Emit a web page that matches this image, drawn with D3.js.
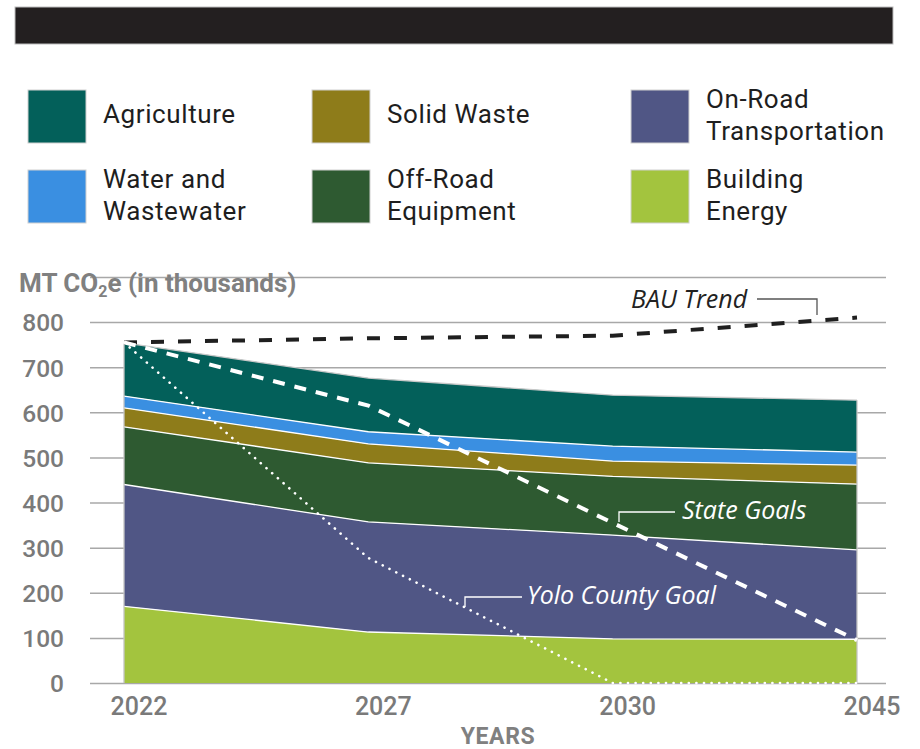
<!DOCTYPE html>
<html>
<head>
<meta charset="utf-8">
<script src="https://cdn.jsdelivr.net/npm/d3@7"></script>
<style>
  body { margin: 0; background: #fff; }
  svg { display: block; }
  .tick line { stroke: #a8a8a8; stroke-width: 1.5; }
</style>
</head>
<body>
<div id="chart"></div>
<script>
// values (MT CO2e, thousands)
const years = ['2022', '2027', '2030', '2045'];
const buildingEnergy = [170, 113, 98, 97];
const onRoadTransportation = [270, 244, 230, 198];
const offRoadEquipment = [128, 131, 130, 146];
const solidWaste = [42, 42, 34, 42];
const waterAndWastewater = [26, 27, 33, 29];
const agriculture = [118, 119, 113, 115];

const bauTrend = [755, 764, 770, 810];
const stateGoals = [755, 615, 355, 95];
const yoloCountyGoal = [755, 277, 0, 0];

const yTicks = [0, 100, 200, 300, 400, 500, 600, 700, 800, 900];

// stacking order, bottom to top
const sectors = [
  {key: 'building', label: ['Building', 'Energy'], values: buildingEnergy, color: '#a3c43e'},
  {key: 'onroad', label: ['On-Road', 'Transportation'], values: onRoadTransportation, color: '#505685'},
  {key: 'offroad', label: ['Off-Road', 'Equipment'], values: offRoadEquipment, color: '#2e5a31'},
  {key: 'solid', label: ['Solid Waste'], values: solidWaste, color: '#8e7c1a'},
  {key: 'water', label: ['Water and', 'Wastewater'], values: waterAndWastewater, color: '#3a8fe1'},
  {key: 'agri', label: ['Agriculture'], values: agriculture, color: '#03605a'}
];

// legend reading order: columns left to right, rows top to bottom
const legendOrder = ['agri', 'solid', 'onroad', 'water', 'offroad', 'building'];

class emissionsChart {

  constructor(_config) {
    this.config = {
      parentElement: _config.parentElement,
      containerWidth: _config.containerWidth || 920,
      containerHeight: _config.containerHeight || 749,
      plotLeft: 124,
      plotRight: 857,
      gridLeft: 90,
      gridRight: 886,
      zeroY: 683,
      topY: 277
    };
    this.initVis();
  }

  initVis() {
    let vis = this;
    const c = vis.config;

    vis.svg = d3.select(c.parentElement).append('svg')
      .attr('width', c.containerWidth)
      .attr('height', c.containerHeight);

    // black header band
    vis.svg.append('rect')
      .attr('x', 15).attr('y', 7)
      .attr('width', 878).attr('height', 37)
      .attr('fill', '#231f20')
      .attr('stroke', '#bdbdbd')
      .attr('stroke-width', 1);

    vis.x = d3.scalePoint().domain(years).range([c.plotLeft, c.plotRight]);
    vis.y = d3.scaleLinear().domain([0, 900]).range([c.zeroY, c.topY]);

    vis.renderLegend();
    vis.renderAxes();
    vis.renderAreas();
    vis.renderLines();
    vis.renderNotes();
  }

  renderLegend() {
    let vis = this;
    const colX = [28, 312, 631];
    const rowY = [90, 170];

    const items = vis.svg.append('g').selectAll('g')
      .data(legendOrder.map(k => sectors.find(s => s.key === k)))
      .join('g')
      .attr('transform', (d, i) => `translate(${colX[i % 3]}, ${rowY[Math.floor(i / 3)]})`);

    items.append('rect')
      .attr('width', 58).attr('height', 53)
      .attr('fill', d => d.color)
      .attr('stroke', '#d0d0d0')
      .attr('stroke-width', 1);

    items.append('text')
      .attr('font-family', 'Roboto')
      .attr('font-size', 26)
      .attr('letter-spacing', 0.6)
      .attr('fill', '#1e1e1e')
      .selectAll('tspan')
      .data(d => d.label.map((t, j) => ({t, j, n: d.label.length})))
      .join('tspan')
      .attr('x', 75)
      .attr('y', d => d.n === 1 ? 33 : 18 + d.j * 32)
      .text(d => d.t);
  }

  renderAxes() {
    let vis = this;
    const c = vis.config;

    const yAxis = vis.svg.append('g')
      .attr('transform', `translate(${c.gridLeft}, 0)`)
      .call(d3.axisLeft(vis.y)
        .tickValues(yTicks)
        .tickSize(-(c.gridRight - c.gridLeft))
        .tickPadding(26)
        .tickFormat(d => d === 900 ? '' : d));
    yAxis.select('.domain').remove();
    yAxis.selectAll('text')
      .attr('font-family', 'Roboto')
      .attr('font-weight', 500)
      .attr('font-size', 24.5)
      .attr('fill', '#7a7a7a')
      .attr('dy', '0.36em');

    const xAxis = vis.svg.append('g')
      .attr('transform', `translate(0, ${c.zeroY})`)
      .call(d3.axisBottom(vis.x).tickSize(0));
    xAxis.select('.domain').remove();
    xAxis.selectAll('text')
      .attr('font-family', 'Roboto')
      .attr('font-weight', 500)
      .attr('font-size', 25)
      .attr('fill', '#7a7a7a')
      .attr('y', 32)
      .attr('dy', 0)
      .attr('dx', 14.5);

    // axis titles
    const yTitle = vis.svg.append('text')
      .attr('x', 19).attr('y', 292)
      .attr('font-family', 'Roboto')
      .attr('font-weight', 700)
      .attr('font-size', 26)
      .attr('fill', '#808080');
    yTitle.append('tspan').text('MT CO');
    yTitle.append('tspan').attr('font-size', 16).attr('dy', 5).text('2');
    yTitle.append('tspan').attr('dy', -5).text('e (in thousands)');

    vis.svg.append('text')
      .attr('x', 498).attr('y', 744)
      .attr('text-anchor', 'middle')
      .attr('font-family', 'Roboto')
      .attr('font-weight', 700)
      .attr('font-size', 23)
      .attr('letter-spacing', 0.6)
      .attr('fill', '#808080')
      .text('YEARS');
  }

  renderAreas() {
    let vis = this;
    const table = years.map((yr, i) => {
      const row = {year: yr};
      sectors.forEach(s => { row[s.key] = s.values[i]; });
      return row;
    });

    const series = d3.stack().keys(sectors.map(s => s.key))(table);
    const colorOf = k => sectors.find(s => s.key === k).color;

    const area = d3.area()
      .x(d => vis.x(d.data.year))
      .y0(d => vis.y(d[0]))
      .y1(d => vis.y(d[1]));

    const topLine = d3.line()
      .x(d => vis.x(d.data.year))
      .y(d => vis.y(d[1]));

    const g = vis.svg.append('g');
    g.selectAll('path.layer')
      .data(series)
      .join('path')
      .attr('class', 'layer')
      .attr('d', area)
      .attr('fill', d => colorOf(d.key));

    g.selectAll('path.edge')
      .data(series)
      .join('path')
      .attr('class', 'edge')
      .attr('d', topLine)
      .attr('fill', 'none')
      .attr('stroke', (d, i) => i === series.length - 1 ? '#c9c9c9' : '#ffffff')
      .attr('stroke-width', 1.3);

    // thin outline on the left and right of the stack
    const total = series[series.length - 1];
    [0, years.length - 1].forEach(i => {
      g.append('line')
        .attr('x1', vis.x(years[i])).attr('x2', vis.x(years[i]))
        .attr('y1', vis.y(0)).attr('y2', vis.y(total[i][1]))
        .attr('stroke', '#c4c4c4')
        .attr('stroke-width', 1.3);
    });
  }

  renderLines() {
    let vis = this;
    const line = d3.line()
      .x((d, i) => vis.x(years[i]))
      .y(d => vis.y(d));

    vis.svg.append('path')
      .attr('d', line(bauTrend))
      .attr('fill', 'none')
      .attr('stroke', '#1f1f1f')
      .attr('stroke-width', 4)
      .attr('stroke-dasharray', '13,14');

    vis.svg.append('path')
      .attr('d', line(stateGoals))
      .attr('fill', 'none')
      .attr('stroke', '#ffffff')
      .attr('stroke-width', 4)
      .attr('stroke-dasharray', '12,10');

    vis.svg.append('path')
      .attr('d', line(yoloCountyGoal))
      .attr('fill', 'none')
      .attr('stroke', '#ffffff')
      .attr('stroke-width', 2.6)
      .attr('stroke-linecap', 'round')
      .attr('stroke-dasharray', '0.1,7.5');
  }

  renderNotes() {
    let vis = this;
    const notes = [
      {text: 'BAU Trend', color: '#222222', lead: '#555555', tx: 631, ty: 308, path: 'M757,299H817V315'},
      {text: 'State Goals', color: '#ffffff', lead: '#ffffff', tx: 682, ty: 519, path: 'M675,512H619V522'},
      {text: 'Yolo County Goal', color: '#ffffff', lead: '#ffffff', tx: 527, ty: 604, path: 'M522,597H465V607'}
    ];

    notes.forEach(n => {
      vis.svg.append('path')
        .attr('d', n.path)
        .attr('fill', 'none')
        .attr('stroke', n.lead)
        .attr('stroke-width', 1.3);
      vis.svg.append('text')
        .attr('x', n.tx).attr('y', n.ty)
        .attr('font-family', 'Open Sans')
        .attr('font-style', 'italic')
        .attr('font-size', 25)
        .attr('fill', n.color)
        .text(n.text);
    });
  }
}

new emissionsChart({parentElement: '#chart'});
</script>
</body>
</html>
